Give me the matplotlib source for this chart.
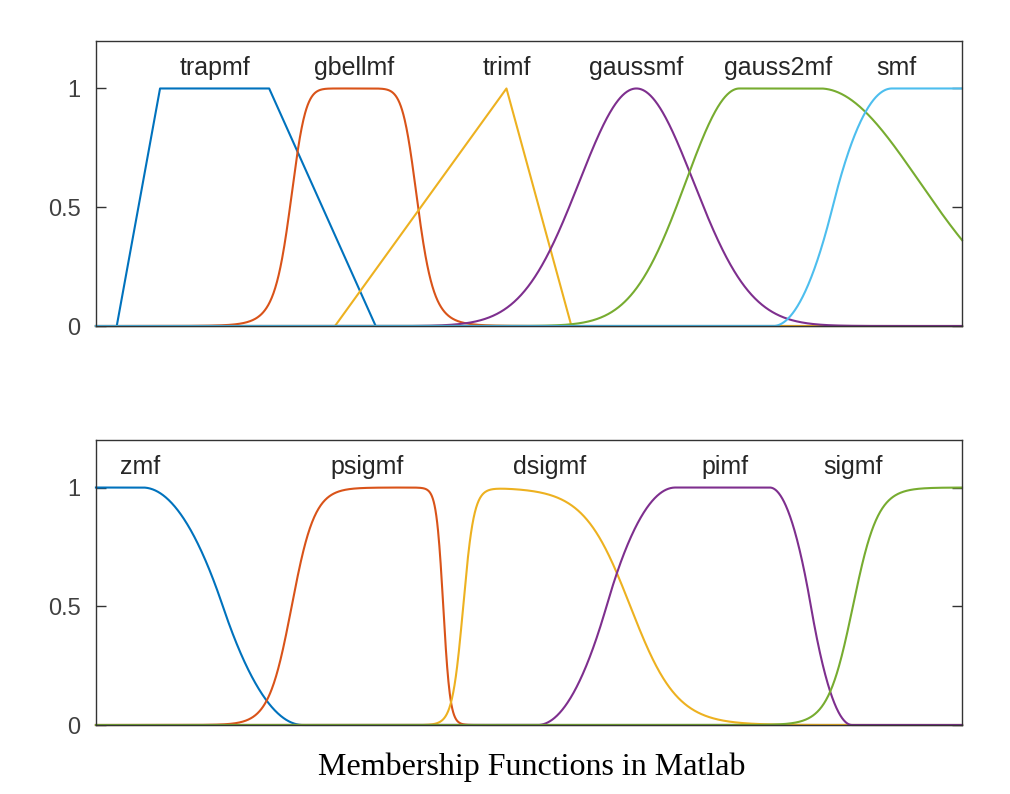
import numpy as np
import matplotlib
matplotlib.use("Agg")
import matplotlib.pyplot as plt

# ---- data: membership-function parameters ----
x = np.linspace(0, 10, 2001)

trap_params = [0.24, 0.74, 2.0, 3.23]
gbell_params = [0.74, 4.0, 2.98]          # a, b, c
tri_params = [2.76, 4.74, 5.49]
gauss_params = [0.66, 6.24]               # sigma, c
gauss2_params = [0.62, 7.43, 1.15, 8.36]  # sig1, c1, sig2, c2
s_params = [7.82, 9.19]

z_params = [0.54, 2.39]
psig_params = [7.5, 2.26, -25.0, 4.01]
dsig_params = [16.0, 4.24, 3.7, 6.17]
pi_params = [5.10, 6.69, 7.78, 8.73]
sig_params = [6.9, 8.74]

top_labels = ["trapmf", "gbellmf", "trimf", "gaussmf", "gauss2mf", "smf"]
top_label_x = [1.38, 2.98, 4.74, 6.24, 7.88, 9.24]
bot_labels = ["zmf", "psigmf", "dsigmf", "pimf", "sigmf"]
bot_label_x = [0.51, 3.13, 5.24, 7.26, 8.74]
label_y = 1.086

colors = ["#0072BD", "#D95319", "#EDB120", "#7E2F8E", "#77AC30", "#4DBEEE"]
title_text = "Membership Functions in Matlab"


# ---- membership functions ----
def trapmf(x, p):
    a, b, c, d = p
    y1 = np.clip((x - a) / (b - a), 0, 1)
    y2 = np.clip((d - x) / (d - c), 0, 1)
    return np.minimum(y1, y2)


def trimf(x, p):
    a, b, c = p
    return np.clip(np.minimum((x - a) / (b - a), (c - x) / (c - b)), 0, 1)


def gbellmf(x, p):
    a, b, c = p
    return 1.0 / (1.0 + np.abs((x - c) / a) ** (2 * b))


def gaussmf(x, p):
    s, c = p
    return np.exp(-((x - c) ** 2) / (2 * s ** 2))


def gauss2mf(x, p):
    s1, c1, s2, c2 = p
    y = np.ones_like(x)
    y = np.where(x < c1, np.exp(-((x - c1) ** 2) / (2 * s1 ** 2)), y)
    y = np.where(x > c2, np.exp(-((x - c2) ** 2) / (2 * s2 ** 2)), y)
    return y


def smf(x, p):
    a, b = p
    m = (a + b) / 2
    y = np.zeros_like(x)
    y = np.where((x > a) & (x <= m), 2 * ((x - a) / (b - a)) ** 2, y)
    y = np.where((x > m) & (x < b), 1 - 2 * ((x - b) / (b - a)) ** 2, y)
    y = np.where(x >= b, 1.0, y)
    return y


def zmf(x, p):
    return 1 - smf(x, p)


def sigmf(x, p):
    a, c = p
    return 1.0 / (1.0 + np.exp(-a * (x - c)))


def psigmf(x, p):
    return sigmf(x, p[:2]) * sigmf(x, p[2:])


def dsigmf(x, p):
    return np.abs(sigmf(x, p[:2]) - sigmf(x, p[2:]))


def pimf(x, p):
    return smf(x, p[:2]) * zmf(x, p[2:])


top_curves = [trapmf(x, trap_params), gbellmf(x, gbell_params), trimf(x, tri_params),
              gaussmf(x, gauss_params), gauss2mf(x, gauss2_params), smf(x, s_params)]
bot_curves = [zmf(x, z_params), psigmf(x, psig_params), dsigmf(x, dsig_params),
              pimf(x, pi_params), sigmf(x, sig_params)]

plt.rcParams['font.family'] = ['Liberation Sans', 'DejaVu Sans']

fig = plt.figure(figsize=(10.10, 7.94), dpi=100)
ax1 = fig.add_axes([0.0950, 0.5894, 0.8575, 0.3590])
ax2 = fig.add_axes([0.0950, 0.0869, 0.8575, 0.3589])

axis_color = "#333333"
for ax, curves, labels, lx in [(ax1, top_curves, top_labels, top_label_x),
                               (ax2, bot_curves, bot_labels, bot_label_x)]:
    for i, y in enumerate(curves):
        ax.plot(x, y, color=colors[i], lw=1.5, clip_on=False, zorder=2 + i)
    for lab, xx in zip(labels, lx):
        ax.text(xx, label_y, lab, ha="center", va="center", fontsize=18, color="#262626")
    ax.set_xlim(0, 10)
    ax.set_ylim(0, 1.2)
    ax.set_xticks([])
    ax.set_yticks([0, 0.5, 1])
    ax.set_yticklabels(["0", "0.5", "1"])
    ax.tick_params(axis="y", direction="in", length=7, width=1.0, right=True,
                   labelsize=17, colors=axis_color, pad=11)
    for lbl in ax.get_yticklabels():
        lbl.set_color("#404040")
    for sp in ax.spines.values():
        sp.set_color(axis_color)
        sp.set_linewidth(1.0)
        sp.set_zorder(10)

fig.text(0.526, 0.034, title_text, ha="center", va="center", fontsize=23,
         family=["Liberation Serif", "DejaVu Serif"], color="black")

fig.savefig("out.png", dpi=100, facecolor="white")
